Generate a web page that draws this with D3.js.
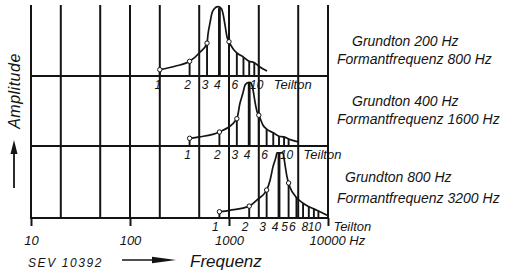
<!DOCTYPE html>
<html>
<head>
<meta charset="utf-8">
<script src="https://cdn.jsdelivr.net/npm/d3@7"></script>
<style>
  body { margin: 0; background: #fff; }
  svg { display: block; }
  text { font-family: "Liberation Sans", Arial, sans-serif; font-style: italic; fill: #141414; }
</style>
</head>
<body>
<svg id="chart" width="527" height="273"></svg>
<script>
// frequency grid + axis labels
const gridFreqs = [10, 20, 50, 100, 200, 500, 1000, 2000, 5000, 10000];
const decadeTicks = [10, 100, 1000, 10000];
const decadeLabels = ['10', '100', '1000', '10000 Hz'];

// fundamental (Grundton) and formant per panel
const grundton = [200, 400, 800];
const formant = [800, 1600, 3200];
const partialNumbers = [1, 2, 3, 4, 5, 6, 7, 8, 9, 10];
const circledPartials = [1, 2, 3, 5];

// relative amplitude of partials 1..10
const amps200 = [0.09, 0.21, 0.47, 0.97, 0.49, 0.33, 0.27, 0.21, 0.19, 0.14];
const amps400 = [0.11, 0.2, 0.39, 0.9, 0.44, 0.24, 0.19, 0.14, 0.13, 0.1];
const amps800 = [0.09, 0.17, 0.4, 0.93, 0.5, 0.3, 0.21, 0.16, 0.13, 0.1];

// envelope curves [Hz, relative amplitude]
const env200 = [[200, 0.09], [285, 0.14], [400, 0.21], [509, 0.34], [600, 0.47], [614, 0.6],
  [643, 0.76], [673, 0.9], [710, 0.96], [774, 0.99], [840, 0.96], [870, 0.89], [911, 0.73],
  [954, 0.56], [1000, 0.49], [1098, 0.39], [1200, 0.33], [1400, 0.27], [1600, 0.21],
  [1800, 0.19], [2000, 0.14], [2420, 0.07]];
const env400 = [[400, 0.11], [500, 0.13], [800, 0.2], [1200, 0.39], [1290, 0.61], [1385, 0.76],
  [1450, 0.87], [1520, 0.9], [1600, 0.91], [1670, 0.9], [1750, 0.8], [1830, 0.63], [1920, 0.49],
  [2000, 0.44], [2200, 0.3], [2400, 0.24], [2800, 0.19], [3200, 0.14], [3600, 0.13],
  [4000, 0.1], [5000, 0.06]];
const env800 = [[800, 0.09], [1020, 0.11], [1600, 0.17], [1920, 0.26], [2400, 0.4], [2600, 0.54],
  [2780, 0.73], [2980, 0.87], [3050, 0.93], [3270, 0.93], [3500, 0.93], [3680, 0.76],
  [3850, 0.59], [4000, 0.5], [4130, 0.44], [4750, 0.3], [5600, 0.21], [6400, 0.16],
  [7200, 0.13], [8000, 0.1], [9800, 0.04]];

// which partial numbers get written under each panel
const labels200 = [1, 2, 3, 4, 6, 10];
const labels400 = [1, 2, 3, 4, 6, 10];
const labels800 = [1, 2, 3, 4, 5, 6, 8, 10];

const titlesGrundton = ['Grundton 200 Hz', 'Grundton 400 Hz', 'Grundton 800 Hz'];
const titlesFormant = ['Formantfrequenz 800 Hz', 'Formantfrequenz 1600 Hz', 'Formantfrequenz 3200 Hz'];

const ink = '#141414';
const svg = d3.select('#chart');
const gridTop = 5;
const baselines = [76, 146, 218];
const panelH = 70;

const x = d3.scaleLog().domain([10, 10000]).range([31, 328]);

const panels = [
  { f0: grundton[0], amps: amps200, env: env200, labels: labels200, lblShift: -2 },
  { f0: grundton[1], amps: amps400, env: env400, labels: labels400, lblShift: -2 },
  { f0: grundton[2], amps: amps800, env: env800, labels: labels800, lblShift: -4 },
];

// vertical grid
svg.append('g')
  .selectAll('line')
  .data(gridFreqs)
  .join('line')
  .attr('x1', (d) => x(d))
  .attr('x2', (d) => x(d))
  .attr('y1', gridTop)
  .attr('y2', baselines[2])
  .attr('stroke', ink)
  .attr('stroke-width', 2);

// panel baselines
svg.append('g')
  .selectAll('line')
  .data(baselines)
  .join('line')
  .attr('x1', x(10) - 1)
  .attr('x2', x(10000) + 1)
  .attr('y1', (d) => d)
  .attr('y2', (d) => d)
  .attr('stroke', ink)
  .attr('stroke-width', 2);

// decade axis
const xAxis = d3.axisBottom(x)
  .tickValues(decadeTicks)
  .tickFormat((d, i) => decadeLabels[i])
  .tickSize(8)
  .tickPadding(10);

const gx = svg.append('g')
  .attr('transform', `translate(0,${baselines[2]})`)
  .call(xAxis);
gx.select('.domain').remove();
gx.selectAll('.tick line').attr('stroke', ink).attr('stroke-width', 2);
gx.selectAll('.tick text')
  .attr('fill', ink)
  .attr('font-size', 13)
  .attr('font-family', '"Liberation Sans", Arial, sans-serif')
  .style('font-style', 'italic');
gx.selectAll('.tick text').filter((d) => d === 10000)
  .attr('text-anchor', 'start')
  .attr('x', -19);

panels.forEach((p, i) => {
  const base = baselines[i];
  const y = d3.scaleLinear().domain([0, 1]).range([base, base - panelH]);
  const g = svg.append('g');
  const partials = partialNumbers.map((n, k) => ({ n, f: n * p.f0, a: p.amps[k] }));

  g.selectAll('.partial')
    .data(partials)
    .join('line')
    .attr('class', 'partial')
    .attr('x1', (d) => x(d.f))
    .attr('x2', (d) => x(d.f))
    .attr('y1', y(0))
    .attr('y2', (d) => y(d.a))
    .attr('stroke', ink)
    .attr('stroke-width', (d) => (d.f === formant[i] ? 2.8 : 1.9));

  g.append('path')
    .datum(p.env)
    .attr('fill', 'none')
    .attr('stroke', ink)
    .attr('stroke-width', 1.7)
    .attr('d', d3.line()
      .x((d) => x(d[0]))
      .y((d) => y(d[1]))
      .curve(d3.curveMonotoneX));

  g.selectAll('.dot')
    .data(partials.filter((d) => circledPartials.includes(d.n)))
    .join('circle')
    .attr('class', 'dot')
    .attr('cx', (d) => x(d.f))
    .attr('cy', (d) => y(d.a))
    .attr('r', 2.2)
    .attr('fill', '#fff')
    .attr('stroke', ink)
    .attr('stroke-width', 1);

  g.selectAll('.num')
    .data(p.labels)
    .join('text')
    .attr('class', 'num')
    .attr('x', (d) => x(d * p.f0) + p.lblShift)
    .attr('y', base + 13)
    .attr('text-anchor', 'middle')
    .attr('font-size', 12)
    .text((d) => d);

  g.append('text')
    .attr('x', x(10 * p.f0) + 15)
    .attr('y', base + 13)
    .attr('font-size', 13)
    .text('Teilton');
});

// titles on the right
const titleX = [[352, 337], [352, 337], [345, 337]];
const titleY = [[46, 64], [106, 124], [182, 203]];
titlesGrundton.forEach((t, i) => {
  svg.append('text').attr('x', titleX[i][0]).attr('y', titleY[i][0]).attr('font-size', 14).text(t);
  svg.append('text').attr('x', titleX[i][1]).attr('y', titleY[i][1]).attr('font-size', 14).text(titlesFormant[i]);
});

// y label and arrow
svg.append('text')
  .attr('transform', 'translate(20,91) rotate(-90)')
  .attr('text-anchor', 'middle')
  .attr('font-size', 16)
  .attr('letter-spacing', 0.5)
  .text('Amplitude');

svg.append('line')
  .attr('x1', 14).attr('x2', 14).attr('y1', 188).attr('y2', 150)
  .attr('stroke', ink).attr('stroke-width', 1.8);
svg.append('path')
  .attr('d', 'M14,140 L10.5,154 L17.5,154 Z')
  .attr('fill', ink);

// bottom caption
svg.append('text')
  .attr('x', 28).attr('y', 267)
  .attr('font-size', 12)
  .attr('letter-spacing', 1.6)
  .text('SEV 10392');

svg.append('line')
  .attr('x1', 122).attr('x2', 160).attr('y1', 260).attr('y2', 260)
  .attr('stroke', ink).attr('stroke-width', 1.5);
svg.append('path')
  .attr('d', 'M176,260 L152,256.8 L152,263.2 Z')
  .attr('fill', ink);

svg.append('text')
  .attr('x', 190).attr('y', 267)
  .attr('font-size', 17)
  .text('Frequenz');
</script>
</body>
</html>
